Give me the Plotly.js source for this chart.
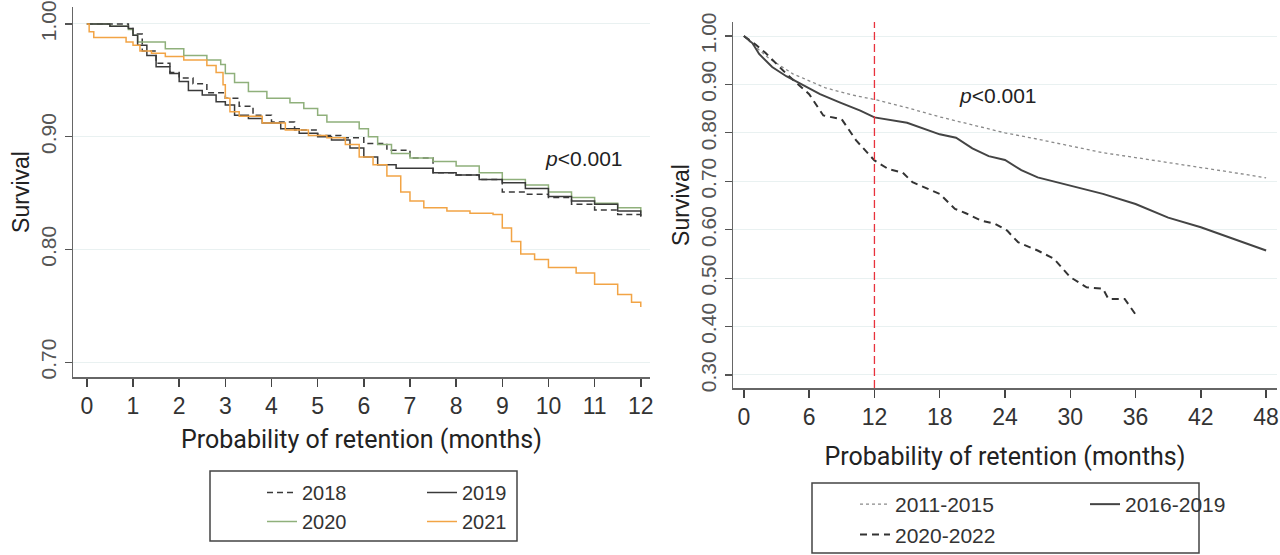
<!DOCTYPE html>
<html>
<head>
<meta charset="utf-8">
<script src="https://cdn.plot.ly/plotly-3.0.1.min.js"></script>
<style>
  html, body { margin: 0; padding: 0; background: #fff; }
  #plot { width: 1280px; height: 555px; }
</style>
</head>
<body>
<div id="plot"></div>
<script>
// left panel: first-year retention by start year
var months2018 = [0, 0.9, 1.0, 1.2, 1.5, 1.8, 2.0, 2.3, 2.6, 3.0, 3.3, 3.6, 4.0, 4.5, 5.0, 5.5, 6.0, 6.5, 7.0, 7.5, 8.0, 8.5, 9.0, 9.5, 10.0, 10.5, 11.0, 11.5, 12.0];
var surv2018 = [1.0, 0.996, 0.991, 0.976, 0.965, 0.957, 0.952, 0.947, 0.939, 0.934, 0.927, 0.919, 0.913, 0.906, 0.901, 0.899, 0.894, 0.888, 0.881, 0.868, 0.866, 0.862, 0.851, 0.849, 0.846, 0.840, 0.835, 0.831, 0.829];

var months2019 = [0, 0.5, 0.9, 1.0, 1.1, 1.3, 1.5, 1.8, 2.0, 2.2, 2.5, 2.8, 3.0, 3.2, 3.5, 3.8, 4.2, 4.6, 5.0, 5.3, 5.7, 6.0, 6.3, 6.7, 7.5, 8.0, 8.5, 9.0, 9.5, 10.0, 10.5, 11.0, 11.5, 12.0];
var surv2019 = [1.0, 0.998, 0.996, 0.990, 0.981, 0.972, 0.962, 0.956, 0.949, 0.941, 0.937, 0.931, 0.928, 0.919, 0.916, 0.912, 0.907, 0.903, 0.900, 0.897, 0.890, 0.882, 0.875, 0.872, 0.868, 0.866, 0.862, 0.859, 0.854, 0.847, 0.843, 0.840, 0.834, 0.829];

var months2020 = [0, 0.5, 0.9, 1.0, 1.1, 1.7, 2.1, 2.6, 2.9, 3.0, 3.2, 3.5, 3.9, 4.4, 4.7, 5.0, 5.2, 5.9, 6.1, 6.3, 6.6, 7.0, 7.5, 8.0, 8.5, 9.0, 9.5, 10.0, 10.5, 11.0, 11.5, 12.0];
var surv2020 = [1.0, 0.998, 0.995, 0.990, 0.984, 0.978, 0.972, 0.968, 0.964, 0.956, 0.948, 0.940, 0.934, 0.930, 0.925, 0.919, 0.913, 0.907, 0.900, 0.893, 0.885, 0.881, 0.878, 0.874, 0.868, 0.862, 0.857, 0.851, 0.846, 0.841, 0.837, 0.832];

var months2021 = [0, 0.05, 0.15, 0.85, 1.0, 1.15, 1.4, 1.7, 2.1, 2.6, 2.8, 2.95, 3.0, 3.1, 3.3, 3.8, 4.3, 4.8, 5.2, 5.6, 5.9, 6.2, 6.5, 6.8, 7.0, 7.3, 7.8, 8.3, 8.8, 9.0, 9.2, 9.4, 9.7, 10.0, 10.6, 11.0, 11.5, 11.8, 12.0];
var surv2021 = [1.0, 0.993, 0.988, 0.984, 0.981, 0.976, 0.974, 0.971, 0.968, 0.963, 0.957, 0.946, 0.934, 0.922, 0.918, 0.912, 0.906, 0.901, 0.899, 0.893, 0.882, 0.875, 0.865, 0.851, 0.843, 0.837, 0.834, 0.832, 0.831, 0.819, 0.807, 0.796, 0.791, 0.784, 0.779, 0.769, 0.760, 0.753, 0.749];

// right panel: retention by period, up to 48 months
var monthsP1 = [0, 1, 2.3, 4.5, 7.5, 10, 12, 15, 18, 21, 24, 27, 30, 33, 36, 39, 42, 45, 48];
var survP1 = [1.0, 0.979, 0.954, 0.922, 0.893, 0.878, 0.869, 0.852, 0.833, 0.816, 0.800, 0.787, 0.773, 0.759, 0.749, 0.739, 0.728, 0.718, 0.707];

var monthsP2 = [0, 0.8, 1.4, 2.6, 3.9, 5.1, 7.0, 8.8, 10.7, 12, 15, 18, 19.5, 21, 22.5, 24, 25.5, 27, 30, 33, 36, 39, 42, 45, 48];
var survP2 = [1.0, 0.985, 0.963, 0.936, 0.917, 0.902, 0.880, 0.863, 0.846, 0.832, 0.821, 0.797, 0.790, 0.768, 0.752, 0.744, 0.723, 0.708, 0.691, 0.674, 0.653, 0.625, 0.605, 0.581, 0.557];

var monthsP3 = [0, 1.1, 2.0, 3.1, 4.0, 5.0, 6.0, 7.3, 9.0, 10.3, 12, 13.3, 14.6, 15.5, 17, 18, 19.4, 20.4, 21.8, 23.1, 24.2, 25.2, 27, 28.5, 30, 31.5, 33, 33.5, 35, 36];
var survP3 = [1.0, 0.982, 0.965, 0.940, 0.920, 0.900, 0.880, 0.836, 0.828, 0.785, 0.743, 0.725, 0.718, 0.698, 0.684, 0.674, 0.643, 0.634, 0.619, 0.612, 0.598, 0.574, 0.557, 0.540, 0.502, 0.481, 0.478, 0.457, 0.457, 0.425];

var leftTicks = [0, 1, 2, 3, 4, 5, 6, 7, 8, 9, 10, 11, 12];
var rightTicks = [0, 6, 12, 18, 24, 30, 36, 42, 48];
var leftYTicks = [0.7, 0.8, 0.9, 1.0];
var leftYLabels = ['0.70', '0.80', '0.90', '1.00'];
var rightYTicks = [0.3, 0.4, 0.5, 0.6, 0.7, 0.8, 0.9, 1.0];
var rightYLabels = ['0.30', '0.40', '0.50', '0.60', '0.70', '0.80', '0.90', '1.00'];
var cutoffMonth = 12;
var pText = '<i>p</i>&lt;0.001';

var W = 1280, H = 555;
function px(x) { return x / W; }
function py(y) { return 1 - y / H; }

var narrow = '"Liberation Sans Narrow", "Arial Narrow", "Liberation Sans", sans-serif';
var sans = '"Liberation Sans", Arial, sans-serif';
var titleFont = {family: 'Roboto, "Noto Sans", sans-serif', size: 25, color: '#222'};

function kmTrace(x, y, name, color, dash, width, xa, ya, leg, shape) {
  return {
    x: x, y: y, name: name, type: 'scatter', mode: 'lines',
    xaxis: xa, yaxis: ya, legend: leg,
    line: {color: color, width: width, dash: dash, shape: shape}
  };
}

var data = [
  kmTrace(months2018, surv2018, '2018', '#3a3a3a', '6px,4px', 1.5, 'x', 'y', 'legend', 'hv'),
  kmTrace(months2020, surv2020, '2020', '#8fb07b', 'solid', 1.5, 'x', 'y', 'legend', 'hv'),
  kmTrace(months2019, surv2019, '2019', '#3a3a3a', 'solid', 1.5, 'x', 'y', 'legend2', 'hv'),
  kmTrace(months2021, surv2021, '2021', '#f2a445', 'solid', 1.5, 'x', 'y', 'legend2', 'hv'),
  kmTrace(monthsP1, survP1, '2011-2015', '#8a8a8a', 'dot', 1.3, 'x2', 'y2', 'legend3', 'linear'),
  kmTrace(monthsP3, survP3, '2020-2022', '#333', '7px,5px', 2, 'x2', 'y2', 'legend3', 'linear'),
  kmTrace(monthsP2, survP2, '2016-2019', '#444', 'solid', 2, 'x2', 'y2', 'legend4', 'linear')
];

function xAxis(domain, range, ticks, anchor, standoff) {
  return {
    domain: domain, range: range, anchor: anchor,
    tickvals: ticks, ticks: 'outside', ticklen: 8, tickwidth: 1.5, tickcolor: '#444',
    showline: true, linecolor: '#666', linewidth: 1.5,
    showgrid: false, zeroline: false,
    tickfont: {family: narrow, size: 23, color: '#333'},
    title: {text: 'Probability of retention (months)', font: titleFont, standoff: standoff}
  };
}
function yAxis(domain, range, ticks, labels, anchor, size) {
  return {
    domain: domain, range: range, anchor: anchor,
    tickvals: ticks, ticktext: labels, tickangle: -90,
    ticks: 'outside', ticklen: 7, tickwidth: 1.2, tickcolor: '#555',
    showline: true, linecolor: '#666', linewidth: 1.5,
    showgrid: true, gridcolor: '#e9f1f1', gridwidth: 1, zeroline: false,
    tickfont: {family: sans, size: size, color: '#555'},
    title: {text: 'Survival', font: {family: sans, size: 23, color: '#222'}, standoff: 1}
  };
}

function legendBox(x, y, size) {
  return {
    x: px(x), y: py(y), xanchor: 'left', yanchor: 'top',
    orientation: 'v', bgcolor: 'rgba(0,0,0,0)', borderwidth: 0,
    font: {family: narrow, size: size, color: '#333'}, tracegroupgap: 0
  };
}

var layout = {
  width: W, height: H,
  margin: {l: 0, r: 0, t: 0, b: 0},
  paper_bgcolor: '#fff', plot_bgcolor: '#fff',
  xaxis: xAxis([px(73), px(650)], [-0.3, 12.2], leftTicks, 'y', 12),
  yaxis: yAxis([py(377), py(7)], [0.6868, 1.015], leftYTicks, leftYLabels, 'x', 21),
  xaxis2: xAxis([px(733), px(1277)], [-1.0, 49.0], rightTicks, 'y2', 18),
  yaxis2: yAxis([py(388), py(22)], [0.273, 1.029], rightYTicks, rightYLabels, 'x2', 21),
  legend: legendBox(262, 473, 20),
  legend2: legendBox(422, 473, 20),
  legend3: legendBox(855, 484, 21),
  legend4: legendBox(1085, 484, 21),
  shapes: [
    {type: 'rect', xref: 'paper', yref: 'paper', x0: px(210), x1: px(517), y0: py(541), y1: py(471),
     line: {color: '#444', width: 1.5}},
    {type: 'rect', xref: 'paper', yref: 'paper', x0: px(812), x1: px(1199), y0: py(553), y1: py(483),
     line: {color: '#444', width: 1.5}},
    {type: 'line', xref: 'x2', yref: 'y2 domain', x0: cutoffMonth, x1: cutoffMonth, y0: 0, y1: 1,
     line: {color: '#e8323c', width: 1.3, dash: '8px,4px'}}
  ],
  annotations: [
    {xref: 'x', yref: 'y', x: 10.76, y: 0.881, text: pText, showarrow: false,
     font: {family: sans, size: 21, color: '#222'}},
    {xref: 'x2', yref: 'y2', x: 23.4, y: 0.878, text: pText, showarrow: false,
     font: {family: sans, size: 21, color: '#222'}}
  ]
};

Plotly.newPlot('plot', data, layout, {staticPlot: true, displayModeBar: false});
</script>
</body>
</html>
